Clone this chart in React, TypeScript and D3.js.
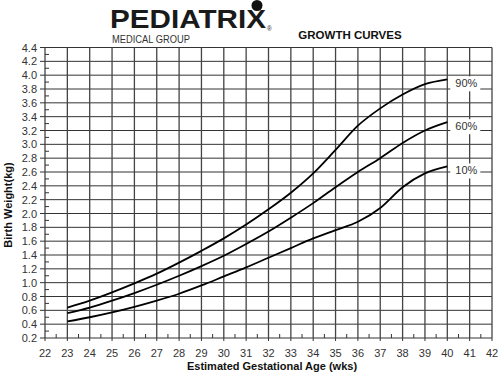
import React from "react";
import * as d3 from "d3";

const weeks = [23, 24, 25, 26, 27, 28, 29, 30, 31, 32, 33, 34, 35, 36, 37, 38, 39, 40];
const p90 = [0.64, 0.74, 0.86, 0.99, 1.13, 1.29, 1.46, 1.64, 1.84, 2.06, 2.30, 2.58, 2.92, 3.27, 3.52, 3.72, 3.87, 3.94];
const p60 = [0.56, 0.64, 0.74, 0.85, 0.97, 1.10, 1.24, 1.39, 1.56, 1.74, 1.94, 2.15, 2.38, 2.60, 2.80, 3.02, 3.20, 3.32];
const p10 = [0.44, 0.50, 0.57, 0.65, 0.74, 0.84, 0.96, 1.09, 1.22, 1.36, 1.50, 1.64, 1.76, 1.88, 2.08, 2.38, 2.58, 2.68];
const seriesLabels = ["90%", "60%", "10%"];
const xTicks = d3.range(22, 43, 1);
const yTicks = d3.range(2, 45, 2).map((v) => v / 10);
const yMinor = d3.range(3, 44, 2).map((v) => v / 10);
const xMinor = d3.range(22.5, 42, 1);

const W = 500;
const H = 375;

export default function App() {
  const x = d3.scaleLinear().domain([22, 42]).range([45, 492]);
  const y = d3.scaleLinear().domain([0.2, 4.4]).range([338, 47.5]);
  const line = d3
    .line<[number, number]>()
    .x((d) => x(d[0]))
    .y((d) => y(d[1]))
    .curve(d3.curveMonotoneX);
  const series = [p90, p60, p10];
  const font = "'Liberation Sans', Arial, Helvetica, sans-serif";
  return (
    <svg
      width={W}
      height={H}
      style={{ position: "absolute", left: 0, top: 0, background: "#fff" }}
      fontFamily={font}
    >
      <rect x={0} y={0} width={W} height={H} fill="#fff" />
      {/* logo */}
      <text x={110} y={27.5} fontSize={26} fontWeight="bold" textLength={156} lengthAdjust="spacingAndGlyphs" fill="#1a1a1a">
        PEDIATRIX
      </text>
      <circle cx={257} cy={5.5} r={5.5} fill="#111" />
      <text x={267} y={31} fontSize={6.5} fill="#222">®</text>
      <text x={112} y={42.5} fontSize={10} textLength={78} lengthAdjust="spacingAndGlyphs" fill="#333">
        MEDICAL GROUP
      </text>
      <text x={350} y={39} fontSize={11.5} fontWeight="bold" textAnchor="middle" fill="#111">
        GROWTH CURVES
      </text>

      {/* horizontal grid */}
      {yTicks.map((t) => (
        <line key={"h" + t} x1={x(22)} x2={x(42)} y1={y(t)} y2={y(t)} stroke="#333" strokeWidth={1} />
      ))}
      {/* vertical grid */}
      {xTicks.map((t) => (
        <line key={"v" + t} x1={x(t)} x2={x(t)} y1={y(4.4)} y2={y(0.2)} stroke="#444" strokeWidth={1.3} />
      ))}
      {/* left axis major ticks */}
      {yTicks.map((t) => (
        <g key={"yt" + t}>
          <line x1={x(22) - 5} x2={x(22)} y1={y(t)} y2={y(t)} stroke="#333" />
          <text x={37} y={y(t) + 4} fontSize={11} textAnchor="end" fill="#333">
            {t.toFixed(1)}
          </text>
        </g>
      ))}
      {yMinor.map((t) => (
        <line key={"ym" + t} x1={x(22)} x2={x(22) + 4} y1={y(t)} y2={y(t)} stroke="#333" />
      ))}
      {/* bottom ticks */}
      {xTicks.map((t) => (
        <g key={"xt" + t}>
          <line x1={x(t)} x2={x(t)} y1={y(0.2)} y2={y(0.2) + 3} stroke="#333" />
          <text x={x(t)} y={357} fontSize={11} textAnchor="middle" fill="#333">
            {t}
          </text>
        </g>
      ))}
      {xMinor.map((t) => (
        <line key={"xm" + t} x1={x(t)} x2={x(t)} y1={y(0.2)} y2={y(0.2) - 4} stroke="#333" />
      ))}

      {/* curves */}
      {series.map((s, i) => (
        <path
          key={"s" + i}
          d={line(weeks.map((w, j) => [w, s[j]] as [number, number])) || ""}
          fill="none"
          stroke="#000"
          strokeWidth={1.8}
        />
      ))}
      {series.map((s, i) => {
        const last = s[s.length - 1];
        const ly = y(last) + 4;
        return (
          <g key={"l" + i}>
            <rect x={x(40) + 3} y={ly - 7} width={30} height={15} fill="#fff" />
            <text x={x(40) + 8} y={ly + 4} fontSize={11} fill="#333">
              {seriesLabels[i]}
            </text>
          </g>
        );
      })}

      {/* axis titles */}
      <text
        transform={`translate(11.5, 205) rotate(-90)`}
        fontSize={11}
        fontWeight="bold"
        textAnchor="middle"
        fill="#111"
      >
        Birth Weight(kg)
      </text>
      <text x={272} y={370} fontSize={11} fontWeight="bold" textAnchor="middle" fill="#111">
        Estimated Gestational Age (wks)
      </text>
    </svg>
  );
}
